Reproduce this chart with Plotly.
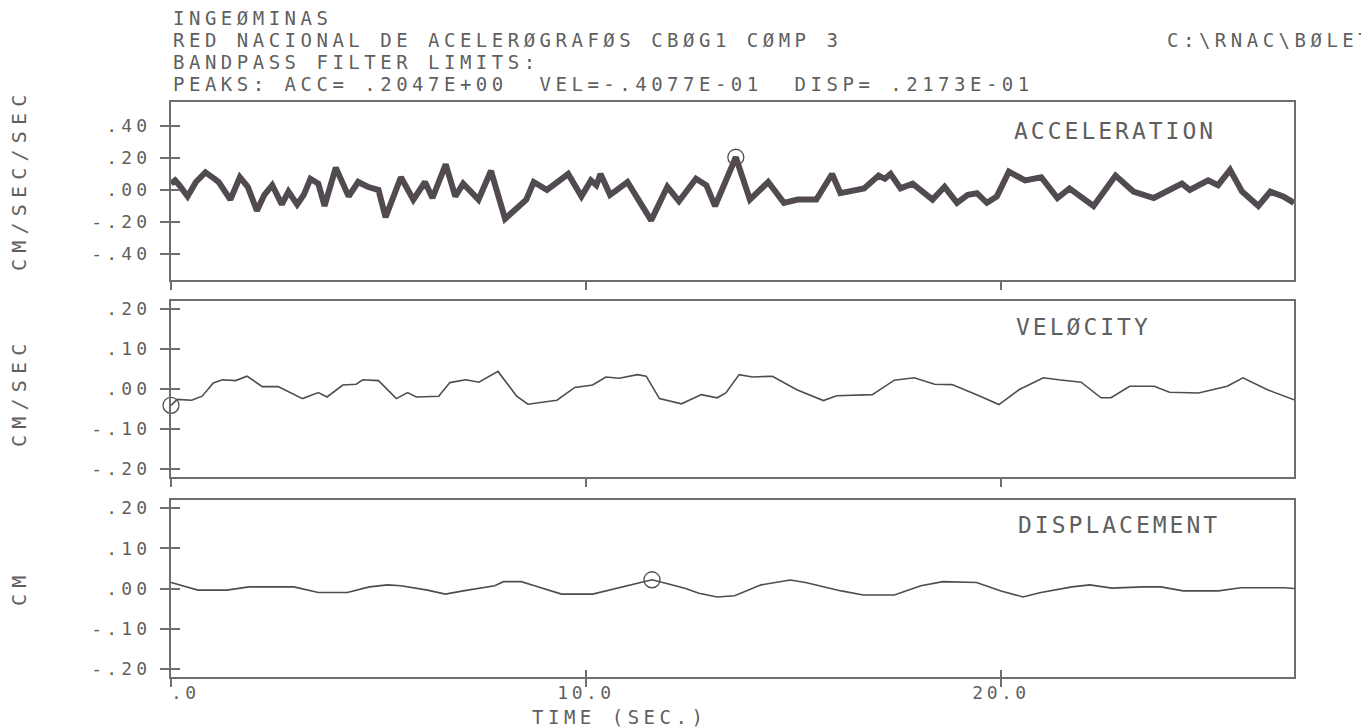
import plotly.graph_objects as go

# ---------------- data ----------------
acc_t = [0.0, 0.1, 0.2, 0.4, 0.6, 0.83, 1.05, 1.15, 1.43, 1.66, 1.85, 2.07, 2.25, 2.44, 2.67,
         2.83, 3.04, 3.2, 3.36, 3.55, 3.70, 3.97, 4.28, 4.51, 4.74, 5.0, 5.17, 5.54, 5.84,
         6.12, 6.30, 6.62, 6.85, 7.04, 7.41, 7.71, 8.05, 8.3, 8.56, 8.74, 9.06, 9.57, 9.89,
         10.12, 10.25, 10.35, 10.58, 11.0, 11.2, 11.57, 11.96, 12.24, 12.65, 12.9, 13.11,
         13.61, 13.95, 14.39, 14.77, 15.1, 15.55, 15.93, 16.13, 16.7, 17.05, 17.2, 17.34,
         17.58, 17.87, 18.35, 18.64, 18.94, 19.2, 19.42, 19.66, 19.9, 20.19, 20.58, 20.97,
         21.36, 21.65, 22.23, 22.76, 23.19, 23.68, 24.0, 24.36, 24.55, 24.99, 25.23, 25.52,
         25.81, 26.2, 26.49, 26.8, 27.06]
acc_v = [0.04, 0.06, 0.03, -0.04, 0.05, 0.11, 0.07, 0.05, -0.06, 0.08, 0.02, -0.13, -0.03, 0.03,
         -0.09, -0.01, -0.09, -0.03, 0.07, 0.04, -0.10, 0.14, -0.04, 0.05, 0.02, 0.00, -0.17,
         0.08, -0.06, 0.05, -0.05, 0.16, -0.04, 0.04, -0.06, 0.12, -0.18, -0.12, -0.06, 0.05,
         0.00, 0.10, -0.04, 0.06, 0.03, 0.10, -0.03, 0.05, -0.03, -0.19, 0.02, -0.07, 0.07,
         0.03, -0.10, 0.2047, -0.06, 0.05, -0.08, -0.06, -0.06, 0.10, -0.02, 0.01, 0.09, 0.07,
         0.10, 0.01, 0.04, -0.06, 0.02, -0.08, -0.03, -0.02, -0.08, -0.04, 0.115, 0.06, 0.08,
         -0.05, 0.01, -0.10, 0.09, -0.01, -0.05, -0.01, 0.04, 0.00, 0.06, 0.03, 0.125, -0.01,
         -0.10, -0.01, -0.04, -0.08]

vel_t = [0.0, 0.15, 0.5, 0.75, 1.02, 1.24, 1.56, 1.83, 2.2, 2.58, 3.17, 3.55, 3.76, 4.14, 4.46,
         4.62, 5.0, 5.43, 5.7, 5.91, 6.45, 6.72, 7.1, 7.42, 7.88, 8.33, 8.6, 9.3, 9.73, 10.16,
         10.48, 10.8, 11.24, 11.45, 11.77, 12.0, 12.3, 12.78, 13.16, 13.37, 13.69, 14.01,
         14.49, 15.08, 15.72, 16.04, 16.9, 17.43, 17.91, 18.4, 18.82, 19.47, 19.95, 20.43,
         21.02, 21.39, 21.93, 22.41, 22.65, 23.1, 23.69, 24.06, 24.76, 25.45, 25.83, 26.42,
         27.06]
vel_v = [-0.0408, -0.026, -0.028, -0.018, 0.015, 0.023, 0.021, 0.032, 0.006, 0.006, -0.024,
         -0.009, -0.020, 0.010, 0.012, 0.023, 0.021, -0.024, -0.009, -0.020, -0.018, 0.016,
         0.023, 0.017, 0.044, -0.018, -0.038, -0.028, 0.004, 0.010, 0.030, 0.027, 0.036,
         0.032, -0.024, -0.030, -0.037, -0.014, -0.022, -0.010, 0.036, 0.030, 0.032, -0.002,
         -0.029, -0.017, -0.014, 0.022, 0.028, 0.012, 0.011, -0.017, -0.039, -0.002, 0.028,
         0.023, 0.017, -0.022, -0.022, 0.007, 0.007, -0.008, -0.010, 0.007, 0.028, -0.002,
         -0.027]

disp_t = [0.0, 0.27, 0.65, 1.34, 1.88, 2.96, 3.55, 4.25, 4.78, 5.22, 5.54, 6.18, 6.61, 7.04,
          7.8, 8.01, 8.44, 8.76, 9.41, 10.16, 10.48, 10.91, 11.34, 11.59, 11.99, 12.4, 12.72,
          13.16, 13.58, 14.22, 14.92, 15.29, 16.15, 16.68, 17.43, 18.07, 18.6, 19.41, 20.0,
          20.53, 20.96, 21.71, 22.14, 22.67, 23.42, 23.85, 24.39, 25.24, 25.78, 26.84, 27.06]
disp_v = [0.015, 0.007, -0.004, -0.004, 0.004, 0.004, -0.010, -0.010, 0.004, 0.009, 0.007,
          -0.004, -0.014, -0.006, 0.007, 0.017, 0.017, 0.007, -0.014, -0.014, -0.006, 0.004,
          0.015, 0.0217, 0.011, 0.000, -0.012, -0.021, -0.018, 0.009, 0.021, 0.015, -0.006,
          -0.016, -0.016, 0.007, 0.017, 0.015, -0.006, -0.021, -0.010, 0.004, 0.009, 0.001,
          0.004, 0.004, -0.006, -0.006, 0.002, 0.002, 0.000]

peak_acc = (13.61, 0.2047)
peak_vel = (0.0, -0.04077)
peak_disp = (11.59, 0.02173)

acc_ticks = [0.4, 0.2, 0.0, -0.2, -0.4]
acc_ticktext = [".40", ".20", ".00", "-.20", "-.40"]
vd_ticks = [0.2, 0.1, 0.0, -0.1, -0.2]
vd_ticktext = [".20", ".10", ".00", "-.10", "-.20"]
x_ticks = [0, 10, 20]
x_ticktext = ["\u00a0\u00a0.0", "10.0", "20.0"]

header_lines = ["INGEØMINAS",
                "RED NACIONAL DE ACELERØGRAFØS CBØG1 CØMP 3",
                "BANDPASS FILTER LIMITS:",
                "PEAKS: ACC= .2047E+00\u00a0 VEL=-.4077E-01\u00a0 DISP= .2173E-01"]
path_text = "C:\\RNAC\\BØLET"
panel_titles = ["ACCELERATION", "VELØCITY", "DISPLACEMENT"]
unit_titles = ["CM/SEC/SEC", "CM/SEC", "CM"]
x_title = "TIME (SEC.)"

# ---------------- styling ----------------
OFF = 8                      # page body margin of the browser
W, H = 1369 - OFF, 728 - OFF
L, R, T, B = 171 - OFF, 75, 102 - OFF, 51
PW, PH = W - L - R, H - T - B
FONT = "DejaVu Sans Mono"
TXT = "#5f5f5f"
LINE = "#6e6e6e"
TRACE = "#524a51"
XMAX = 27.06


def px(xs):
    """screen pixel x -> paper fraction"""
    return (xs - OFF - L) / PW


def py(ys):
    """screen pixel y -> paper fraction"""
    return (H - B - (ys - OFF)) / PH


def sp(s, ls):
    return '<span style="letter-spacing:%.1fpx">%s</span>' % (ls, s)


dom1 = [py(280), 1.0]
dom2 = [py(477), py(301)]
dom3 = [0.0, py(500)]

fig = go.Figure()

fig.add_trace(go.Scatter(x=acc_t, y=acc_v, mode="lines", xaxis="x", yaxis="y",
                         line=dict(color=TRACE, width=6), hoverinfo="skip"))
fig.add_trace(go.Scatter(x=vel_t, y=vel_v, mode="lines", xaxis="x2", yaxis="y2",
                         line=dict(color=TRACE, width=1.6), hoverinfo="skip"))
fig.add_trace(go.Scatter(x=disp_t, y=disp_v, mode="lines", xaxis="x3", yaxis="y3",
                         line=dict(color=TRACE, width=1.6), hoverinfo="skip"))
for (pt, xa, ya) in [(peak_acc, "x", "y"), (peak_vel, "x2", "y2"), (peak_disp, "x3", "y3")]:
    fig.add_trace(go.Scatter(x=[pt[0]], y=[pt[1]], mode="markers", xaxis=xa, yaxis=ya,
                             cliponaxis=False,
                             marker=dict(symbol="circle-open", size=16, color=TRACE,
                                         line=dict(color=TRACE, width=1.3)),
                             hoverinfo="skip"))
# empty traces to activate overlay axes (inside half of crossing ticks)
fig.add_trace(go.Scatter(x=[], y=[], xaxis="x", yaxis="y4", showlegend=False))
fig.add_trace(go.Scatter(x=[], y=[], xaxis="x2", yaxis="y5", showlegend=False))
fig.add_trace(go.Scatter(x=[], y=[], xaxis="x4", yaxis="y6", showlegend=False))

tickfont = dict(family=FONT, size=18, color=TXT)


def xax(anchor):
    return dict(range=[0, XMAX], domain=[0, 1], anchor=anchor, tickmode="array",
                tickvals=x_ticks, ticks="outside", ticklen=8, tickwidth=1.5, tickcolor=LINE,
                showline=True, linecolor=LINE, linewidth=2, mirror=True, showgrid=False,
                zeroline=False, showticklabels=False)


def yax(domain, rng, vals, texts, anchor):
    return dict(domain=domain, range=rng, anchor=anchor, tickmode="array", tickvals=vals,
                ticktext=[sp(t, 4.2) for t in texts], ticks="outside", ticklen=9,
                tickwidth=1.5, tickcolor=LINE, showline=True, linecolor=LINE, linewidth=2,
                mirror=True, showgrid=False, zeroline=False, tickfont=tickfont,
                ticklabelstandoff=5)


def yover(base, rng, vals, anchor):
    return dict(overlaying=base, anchor=anchor, range=rng, tickmode="array", tickvals=vals,
                ticks="inside", ticklen=9, tickwidth=1.5, tickcolor=LINE, showline=False,
                showgrid=False, zeroline=False, showticklabels=False, side="left")


acc_rng = [-0.5625, 0.55]
vd_rng = [-0.22, 0.22]

fig.update_layout(
    width=W, height=H, autosize=False,
    margin=dict(l=L, r=R, t=T, b=B, pad=0),
    paper_bgcolor="white", plot_bgcolor="white", showlegend=False,
    xaxis=xax("y"),
    xaxis2=xax("y2"),
    xaxis3=xax("y3"),
    xaxis4=dict(overlaying="x3", anchor="y3", range=[0, XMAX], tickmode="array",
                tickvals=x_ticks, ticktext=[sp(t, 3.5) for t in x_ticktext],
                ticks="inside", ticklen=7, tickwidth=1.5, tickcolor=LINE,
                showline=False, showgrid=False, zeroline=False, showticklabels=True,
                tickfont=tickfont, ticklabelstandoff=3),
    yaxis=yax(dom1, acc_rng, acc_ticks, acc_ticktext, "x"),
    yaxis2=yax(dom2, vd_rng, vd_ticks, vd_ticktext, "x2"),
    yaxis3=yax(dom3, vd_rng, vd_ticks, vd_ticktext, "x3"),
    yaxis4=yover("y", acc_rng, acc_ticks, "x"),
    yaxis5=yover("y2", vd_rng, vd_ticks, "x2"),
    yaxis6=yover("y3", vd_rng, vd_ticks, "x4"),
)

anns = []
hdr_y = [18, 40, 62, 84]
for line, yy in zip(header_lines, hdr_y):
    anns.append(dict(text=sp(line, 4.5), x=px(171), y=py(yy), xref="paper", yref="paper",
                     xanchor="left", yanchor="middle", showarrow=False,
                     font=dict(family=FONT, size=19, color=TXT)))
anns.append(dict(text=sp(path_text, 4.5), x=px(1165), y=py(40), xref="paper", yref="paper",
                 xanchor="left", yanchor="middle", showarrow=False,
                 font=dict(family=FONT, size=19, color=TXT)))
for title, xx, yy in zip(panel_titles, [1012, 1014, 1016], [131, 327, 525]):
    anns.append(dict(text=sp(title, 3.0), x=px(xx), y=py(yy), xref="paper", yref="paper",
                     xanchor="left", yanchor="middle", showarrow=False,
                     font=dict(family=FONT, size=23, color=TXT)))
for title, yy in zip(unit_titles, [180, 393, 588]):
    anns.append(dict(text=sp(title, 6.2), x=px(19), y=py(yy), xref="paper", yref="paper",
                     xanchor="center", yanchor="middle", textangle=-90, showarrow=False,
                     font=dict(family=FONT, size=20, color=TXT)))
anns.append(dict(text=sp(x_title, 4.5), x=px(530), y=py(717), xref="paper", yref="paper",
                 xanchor="left", yanchor="middle", showarrow=False,
                 font=dict(family=FONT, size=19, color=TXT)))
fig.update_layout(annotations=anns)

fig.write_html("out.html")
